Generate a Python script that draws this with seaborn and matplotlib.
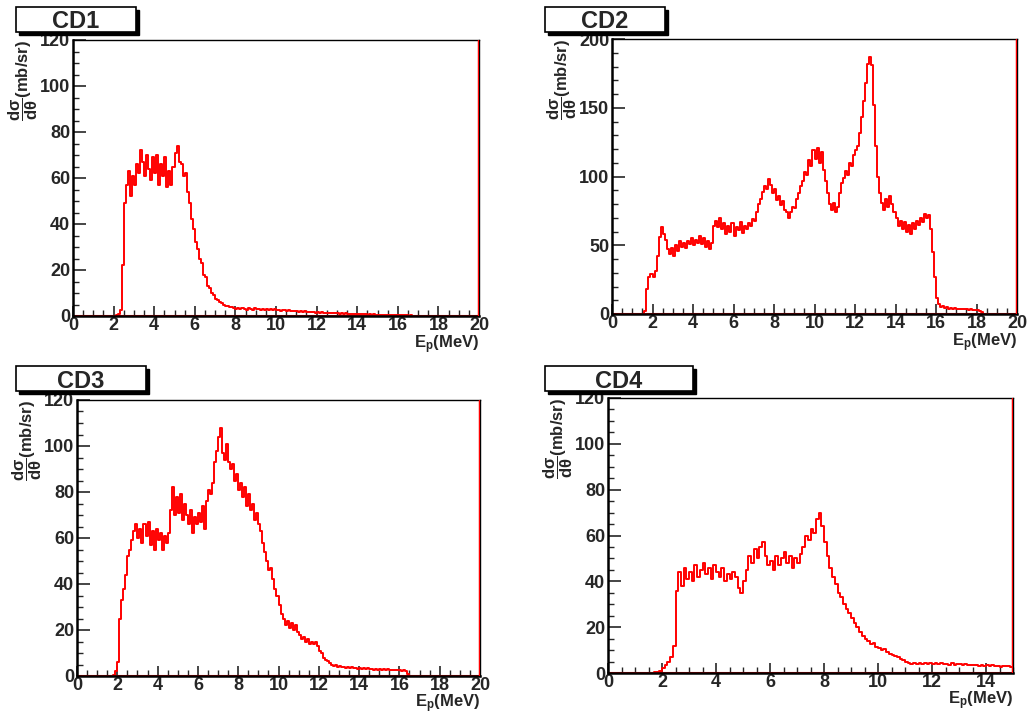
import numpy as np
import pandas as pd
import seaborn as sns
import matplotlib
matplotlib.use('Agg')
import matplotlib.pyplot as plt
from matplotlib.patches import Rectangle
from matplotlib.ticker import MultipleLocator

# bin width of the histograms (MeV)
bin_w = 0.1

# CD1: contents per 0.1 MeV bin, first bin starts at 2.0 MeV
cd1_start = 2.0
cd1_vals = [0, 0.3, 0.8, 2.5, 22, 49, 57, 63, 52, 61,
            57, 66, 62, 72, 67, 61, 70, 64, 59, 69,
            62, 70, 57, 66, 61, 69, 56, 63, 57, 65,
            71, 74, 67, 66, 61, 62, 54, 49, 42, 38,
            32, 29, 25, 23, 18, 17, 13, 12, 10, 9,
            7.5, 7, 6, 5.5, 5, 4.5, 4.2, 3.8, 4, 3.4,
            3.2, 3.6, 2.9, 3.4, 3.1, 2.8, 3.5, 3.0, 2.7, 3.3,
            2.9, 3.2, 2.6, 3.0, 2.8, 3.1, 2.5, 2.9, 2.7, 3.0,
            2.6, 2.8, 2.3, 2.6, 2.4, 2.2, 2.5, 2.1, 2.3, 2.0,
            2.2, 1.9, 2.1, 1.8, 2.0, 1.7, 1.9, 1.6, 1.8, 1.5,
            1.7, 1.5, 1.6, 1.3, 1.5, 1.2, 1.4, 1.2, 1.3, 1.1,
            1.2, 1.0, 1.2, 0.9, 1.1, 0.9, 1.0, 0.8, 1.0, 0.8,
            0.9, 0.7, 0.8, 0.7, 0.8, 0.6, 0.7, 0.6, 0.7, 0.5,
            0.6, 0.5, 0.6, 0.4, 0.5, 0.4, 0.5, 0.4, 0.4, 0.3,
            0.4, 0.3, 0.4, 0.3, 0.3, 0.2, 0.3, 0.2, 0.2, 0.1, 0]

# CD2: first bin starts at 1.5 MeV
cd2_start = 1.5
cd2_vals = [0, 2, 18, 27, 29, 27, 31, 42, 56, 63,
            58, 54, 47, 44, 48, 42, 50, 46, 53, 49,
            52, 48, 53, 51, 55, 50, 54, 52, 57, 51,
            55, 49, 53, 47, 52, 64, 68, 63, 70, 62,
            66, 58, 64, 60, 66, 57, 63, 61, 67, 59,
            64, 62, 66, 64, 69, 68, 74, 80, 84, 89,
            93, 91, 98, 94, 88, 91, 83, 86, 79, 82,
            76, 74, 70, 74, 78, 77, 84, 88, 93, 97,
            103, 101, 112, 108, 119, 113, 121, 110, 118, 105,
            97, 88, 80, 76, 81, 74, 78, 88, 95, 99,
            104, 101, 110, 108, 116, 119, 122, 132, 143, 155,
            168, 182, 187, 181, 152, 122, 100, 88, 81, 76,
            84, 78, 86, 80, 74, 70, 64, 68, 62, 67,
            60, 65, 58, 66, 62, 68, 65, 70, 67, 73,
            70, 72, 62, 45, 27, 12, 7, 5, 5.5, 4.5,
            5, 4, 4.5, 4, 4.2, 3.8, 4, 3.5, 3.9, 3.4,
            3.6, 3.2, 3.5, 3.0, 3.2, 2.8, 2.2, 1.2, 0.3, 0]

# CD3: first bin starts at 1.7 MeV
cd3_start = 1.7
cd3_vals = [0, 0.5, 2, 6, 25, 33, 38, 44, 52, 55,
            59, 63, 66, 60, 64, 58, 66, 61, 67, 57,
            63, 55, 64, 59, 62, 55, 61, 58, 62, 72,
            82, 70, 78, 71, 79, 68, 75, 70, 66, 72,
            62, 69, 66, 71, 67, 74, 64, 76, 81, 79,
            84, 93, 98, 104, 108, 97, 94, 101, 93, 90,
            92, 85, 88, 81, 84, 78, 82, 74, 79, 72,
            75, 68, 71, 66, 63, 58, 54, 50, 46, 47,
            42, 38, 35, 31, 27, 25, 22, 24, 21, 23,
            20, 22, 19, 18, 16, 17, 15, 16, 14, 15,
            14, 15, 13, 11, 10, 8, 7, 6.5, 5.5, 5,
            4.5, 5, 4, 4.3, 3.8, 4, 3.5, 3.9, 3.4, 3.8,
            3.3, 3.6, 3.2, 3.5, 3.1, 3.4, 3.0, 3.3, 2.9, 3.2,
            2.8, 3.1, 2.8, 3.0, 2.7, 3.0, 2.6, 2.9, 2.6, 2.8,
            2.5, 2.7, 2.4, 2.6, 2.3, 2.4, 2.0, 1.0, 0]

# CD4: first bin starts at 1.5 MeV
cd4_start = 1.5
cd4_vals = [0, 0.2, 0.4, 0.6, 1, 2, 3.5, 5, 7, 12,
            36, 44, 38, 46, 41, 44, 40, 47, 42, 45,
            48, 43, 46, 41, 47, 44, 42, 46, 40, 43,
            41, 44, 42, 37, 35, 40, 45, 51, 48, 54,
            50, 55, 57, 51, 47, 49, 45, 51, 47, 50,
            53, 48, 51, 46, 50, 48, 52, 55, 60, 58,
            63, 61, 67, 70, 64, 57, 51, 46, 42, 39,
            35, 33, 30, 28, 26, 24, 22, 20, 18, 16,
            15, 14, 12.5, 13, 11.5, 11, 10, 10.5, 9, 8.5,
            8, 7.5, 7, 6, 5.5, 4.8, 4.5, 4, 4.3, 3.8,
            4.2, 4.0, 4.4, 3.9, 4.2, 4.0, 4.5, 3.9, 4.3, 3.8,
            4.1, 3.7, 4.2, 3.6, 4.0, 3.8, 3.5, 3.9, 3.4, 3.7,
            3.3, 3.6, 3.2, 3.5, 3.0, 3.4, 3.1, 3.3, 2.9, 3.2,
            2.8, 3.1, 2.9, 3.0, 2.8]

titles = ['CD1', 'CD2', 'CD3', 'CD4']
starts = [cd1_start, cd2_start, cd3_start, cd4_start]
contents = [cd1_vals, cd2_vals, cd3_vals, cd4_vals]
x_max = [20, 20, 20, 15]
y_max = [120, 200, 120, 120]
y_major = [20, 50, 20, 20]
y_minor = [5, 10, 5, 5]

sns.set_style('white')
plt.rcParams['font.family'] = ['Liberation Sans', 'DejaVu Sans']
plt.rcParams['font.weight'] = 'bold'
plt.rcParams['mathtext.fontset'] = 'custom'
plt.rcParams['mathtext.rm'] = 'Liberation Sans:bold'
plt.rcParams['mathtext.it'] = 'Liberation Sans:bold'
plt.rcParams['mathtext.bf'] = 'Liberation Sans:bold'

W, H = 1028, 714
fig = plt.figure(figsize=(W / 100, H / 100), dpi=100)

# axes frames in pixels: left, right, top, bottom
frames = [(73, 479, 40, 316), (612, 1017, 39, 314),
          (77, 480, 400, 676), (608, 1013, 398, 673)]
# title boxes in pixels: left, right, top, bottom
boxes = [(16, 136, 7, 32), (545, 665, 7, 32),
         (16, 146, 366, 391), (545, 693, 366, 391)]

for i in range(4):
    l, r, t, b = frames[i]
    ax = fig.add_axes([l / W, 1 - b / H, (r - l) / W, (b - t) / H])
    vals = list(contents[i])
    edges = starts[i] + bin_w * np.arange(len(vals) + 1)
    # step outline: each bin value held from its left edge to the next edge
    df = pd.DataFrame({'E': edges, 'w': vals + [vals[-1]]})
    sns.lineplot(data=df, x='E', y='w', estimator=None, sort=False,
                 drawstyle='steps-post', color='red', linewidth=1.4, ax=ax)
    ax.axhline(0, color='red', lw=1.5, zorder=1)
    ax.axvline(x_max[i], color='red', lw=2.5, zorder=5)

    ax.set_xlim(0, x_max[i])
    ax.set_ylim(0, y_max[i])
    ax.xaxis.set_major_locator(MultipleLocator(2))
    ax.xaxis.set_minor_locator(MultipleLocator(0.5))
    ax.yaxis.set_major_locator(MultipleLocator(y_major[i]))
    ax.yaxis.set_minor_locator(MultipleLocator(y_minor[i]))
    ax.tick_params(which='major', direction='in', length=9, width=1.2,
                   labelsize=13, pad=2, bottom=True, left=True)
    ax.tick_params(which='minor', direction='in', length=4.5, width=1.0,
                   bottom=True, left=True)
    ax.tick_params(axis='x', which='major', length=7, pad=1)
    ax.tick_params(axis='x', which='minor', length=4)
    for lab in ax.get_xticklabels() + ax.get_yticklabels():
        lab.set_fontweight('bold')

    for s in ['left', 'bottom']:
        ax.spines[s].set_linewidth(1.8)
        ax.spines[s].set_color('black')
    for s in ['top', 'right']:
        ax.spines[s].set_linewidth(1.0)
        ax.spines[s].set_color('black')

    ax.set_xlabel(r'E$_{\mathbf{p}}$(MeV)', fontsize=12, fontweight='bold',
                  ha='right', x=1.0, labelpad=-1.5 if i >= 2 else -0.5)
    ax.set_ylabel(r'$\dfrac{\mathbf{d\sigma}}{\mathbf{d\theta}}$(mb/sr)',
                  fontsize=12, fontweight='bold', ha='right', y=1.0, labelpad=0)

    # title box with shadow (ROOT style)
    bl, br, bt, bb = boxes[i]
    fig.patches.append(Rectangle(((bl + 3) / W, 1 - (bb + 3) / H), (br - bl) / W,
                                 (bb - bt) / H, transform=fig.transFigure,
                                 facecolor='black', edgecolor='black', zorder=1))
    fig.patches.append(Rectangle((bl / W, 1 - bb / H), (br - bl) / W,
                                 (bb - bt) / H, transform=fig.transFigure,
                                 facecolor='white', edgecolor='black', lw=1.2,
                                 zorder=2))
    fig.text((bl + br) / 2 / W, 1 - (bt + bb) / 2 / H, titles[i], fontsize=17,
             fontweight='bold', ha='center', va='center_baseline', zorder=3)

fig.savefig('out.png', dpi=100)
